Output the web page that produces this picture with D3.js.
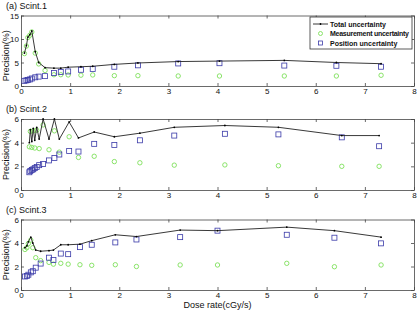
<!DOCTYPE html>
<html>
<head>
<meta charset="utf-8">
<script src="https://cdn.jsdelivr.net/npm/d3@7"></script>
<style>
  body { margin: 0; background: #fff; }
  svg { font-family: "Liberation Sans", Arial, sans-serif; }
  .axis text { font-size: 8px; fill: #111; }
  .axis path, .axis line { stroke: #444; stroke-width: 0.8; }
</style>
</head>
<body>
<script>
//////////////// Datas ////////////////////
var xTicks = [0, 1, 2, 3, 4, 5, 6, 7, 8];
var legendLabels = ["Total uncertainty", "Measurement uncertainty", "Position uncertainty"];

// (a) Scint.1
var doseA  = [0.07, 0.11, 0.14, 0.18, 0.22, 0.29, 0.36, 0.49, 0.67, 0.81, 0.96, 1.22, 1.46, 1.9, 2.38, 3.2, 4.04, 5.36, 6.42, 7.33];
var totalA = [7.0, 8.6, 10.4, 10.9, 11.7, 7.3, 5.0, 3.9, 3.8, 3.8, 4.0, 4.1, 4.2, 4.6, 4.9, 5.2, 5.3, 5.45, 5.0, 4.75];
var measA  = [6.9, 8.5, 10.3, 10.8, 11.5, 7.0, 4.7, 3.3, 2.4, 2.4, 2.35, 2.3, 2.35, 2.2, 2.2, 2.13, 2.13, 2.13, 2.13, 2.28];
var posA   = [1.1, 1.2, 1.3, 1.4, 1.6, 1.85, 2.0, 2.1, 2.75, 3.0, 3.1, 3.45, 3.6, 4.1, 4.4, 4.8, 4.85, 4.35, 4.3, 4.1];

// (b) Scint.2
var doseB  = [0.17, 0.19, 0.22, 0.25, 0.28, 0.32, 0.37, 0.45, 0.57, 0.68, 0.78, 0.98, 1.17, 1.49, 1.9, 2.42, 3.12, 4.15, 5.24, 6.53, 7.29];
var totalB = [4.0, 5.1, 4.1, 5.2, 4.2, 5.3, 4.3, 6.0, 4.3, 6.0, 4.3, 5.75, 4.4, 4.9, 4.5, 4.8, 5.3, 5.45, 5.3, 4.6, 4.6];
var measB  = [3.65, 4.95, 3.6, 5.0, 3.55, 5.05, 3.5, 5.5, 3.4, 5.0, 3.2, 4.5, 2.75, 2.85, 2.4, 2.3, 2.1, 2.12, 2.05, 2.0, 2.0];
var posB   = [1.5, 1.6, 1.7, 1.75, 1.85, 1.95, 2.1, 2.2, 2.5, 2.7, 3.0, 3.3, 3.25, 3.9, 3.8, 4.2, 4.6, 4.75, 4.7, 4.45, 3.7];

// (c) Scint.3
var doseC  = [0.08, 0.12, 0.15, 0.2, 0.24, 0.3, 0.4, 0.57, 0.66, 0.81, 0.96, 1.2, 1.44, 1.92, 2.35, 3.24, 4.0, 5.41, 6.38, 7.33];
var totalC = [3.6, 3.75, 4.1, 4.5, 4.0, 3.4, 3.3, 3.35, 3.4, 3.85, 3.85, 3.9, 4.2, 4.7, 4.55, 5.1, 5.05, 5.35, 5.05, 4.5];
var measC  = [3.45, 3.6, 3.95, 4.25, 3.6, 2.75, 2.5, 2.35, 2.2, 2.27, 2.2, 2.15, 2.1, 2.15, 2.0, 2.13, 2.13, 2.27, 1.98, 2.13];
var posC   = [1.15, 1.2, 1.3, 1.5, 1.6, 1.9, 2.25, 2.75, 2.55, 3.1, 3.05, 3.65, 3.85, 4.05, 4.3, 4.5, 5.05, 4.7, 4.45, 3.97];

var panels = [
  {title: "(a) Scint.1", dose: doseA, total: totalA, meas: measA, pos: posA, yMax: 15, yTicks: [0, 5, 10, 15], top: 15.5, bottom: 86, legend: true},
  {title: "(b) Scint.2", dose: doseB, total: totalB, meas: measB, pos: posB, yMax: 6, yTicks: [0, 2, 4, 6], top: 119, bottom: 190},
  {title: "(c) Scint.3", dose: doseC, total: totalC, meas: measC, pos: posC, yMax: 6, yTicks: [0, 2, 4, 6], top: 219.5, bottom: 290}
];

//////////////// Variables ////////////////////
var W = 420, H = 310;
var left = 21, right = 414;
var green = "#7ee05a", blue = "#3a3aa8";
var fmt = d3.format("d");

//////////////// SVG ////////////////////
var svg = d3.select("body").append("svg")
  .attr("width", W)
  .attr("height", H);

var xScale = d3.scaleLinear().domain([0, 8]).range([left, right]);

panels.forEach(function(p) {
  var yScale = d3.scaleLinear().domain([0, p.yMax]).range([p.bottom, p.top]);
  var g = svg.append("g");
  var rows = p.dose.map(function(d, i) {
    return {x: d, total: p.total[i], meas: p.meas[i], pos: p.pos[i]};
  });

  // axes (matlab style, ticks inside)
  g.append("g").attr("class", "axis")
    .attr("transform", "translate(0," + p.bottom + ")")
    .call(d3.axisBottom(xScale).tickValues(xTicks).tickFormat(fmt).tickSizeInner(-3).tickSizeOuter(0).tickPadding(2));
  g.append("g").attr("class", "axis")
    .attr("transform", "translate(0," + p.top + ")")
    .call(d3.axisTop(xScale).tickValues(xTicks).tickSizeInner(-3).tickSizeOuter(0).tickFormat(""));
  g.append("g").attr("class", "axis")
    .attr("transform", "translate(" + left + ",0)")
    .call(d3.axisLeft(yScale).tickValues(p.yTicks).tickFormat(fmt).tickSizeInner(-3).tickSizeOuter(0).tickPadding(2));
  g.append("g").attr("class", "axis")
    .attr("transform", "translate(" + right + ",0)")
    .call(d3.axisRight(yScale).tickValues(p.yTicks).tickSizeInner(-3).tickSizeOuter(0).tickFormat(""));

  // title + y label
  g.append("text")
    .attr("x", 6).attr("y", p.top - 7)
    .style("font-size", "9px").attr("fill", "#111")
    .text(p.title);
  g.append("text")
    .attr("transform", "translate(9," + ((p.top + p.bottom) / 2 + (p.legend ? 5 : 0)) + ") rotate(-90)")
    .style("text-anchor", "middle")
    .style("font-size", "9px").attr("fill", "#111")
    .text("Precision(%)");

  // measurement circles
  g.selectAll("circle.meas").data(rows).enter()
    .append("circle").attr("class", "meas")
    .attr("cx", function(d) { return xScale(d.x); })
    .attr("cy", function(d) { return yScale(d.meas); })
    .attr("r", 2.2)
    .attr("fill", "none").attr("stroke", green).attr("stroke-width", 0.9);

  // position squares
  g.selectAll("rect.pos").data(rows).enter()
    .append("rect").attr("class", "pos")
    .attr("x", function(d) { return xScale(d.x) - 2.5; })
    .attr("y", function(d) { return yScale(d.pos) - 2.5; })
    .attr("width", 5).attr("height", 5)
    .attr("fill", "none").attr("stroke", blue).attr("stroke-width", 0.8);

  // total line
  var line = d3.line()
    .x(function(d) { return xScale(d.x); })
    .y(function(d) { return yScale(d.total); });
  g.append("path").datum(rows)
    .attr("d", line)
    .attr("fill", "none").attr("stroke", "#222").attr("stroke-width", 0.9);
  g.selectAll("circle.tot").data(rows).enter()
    .append("circle").attr("class", "tot")
    .attr("cx", function(d) { return xScale(d.x); })
    .attr("cy", function(d) { return yScale(d.total); })
    .attr("r", 0.9).attr("fill", "#000");

  ////////////// Legend //////////////
  if (p.legend) {
    var lg = g.append("g").attr("transform", "translate(310,17)");
    lg.append("rect").attr("width", 102).attr("height", 32)
      .attr("fill", "#fff").attr("stroke", "#333").attr("stroke-width", 0.8);
    legendLabels.forEach(function(lab, i) {
      var y = 7 + i * 9.5;
      if (i === 0) {
        lg.append("line").attr("x1", 3).attr("x2", 18).attr("y1", y).attr("y2", y)
          .attr("stroke", "#222").attr("stroke-width", 0.9);
        lg.append("circle").attr("cx", 10.5).attr("cy", y).attr("r", 0.9).attr("fill", "#000");
      } else if (i === 1) {
        lg.append("circle").attr("cx", 10.5).attr("cy", y).attr("r", 2)
          .attr("fill", "none").attr("stroke", green).attr("stroke-width", 0.9);
      } else {
        lg.append("rect").attr("x", 8.5).attr("y", y - 2).attr("width", 4).attr("height", 4)
          .attr("fill", "none").attr("stroke", blue).attr("stroke-width", 0.8);
      }
      lg.append("text").attr("x", 20).attr("y", y + 2.6)
        .style("font-size", "7px").style("font-weight", "bold").attr("fill", "#111")
        .attr("textLength", i === 1 ? 79 : null)
        .text(lab);
    });
  }
});

// x label
svg.append("text")
  .attr("x", (left + right) / 2).attr("y", 308)
  .style("text-anchor", "middle")
  .style("font-size", "9px").attr("fill", "#111")
  .text("Dose rate(cGy/s)");
</script>
</body>
</html>
